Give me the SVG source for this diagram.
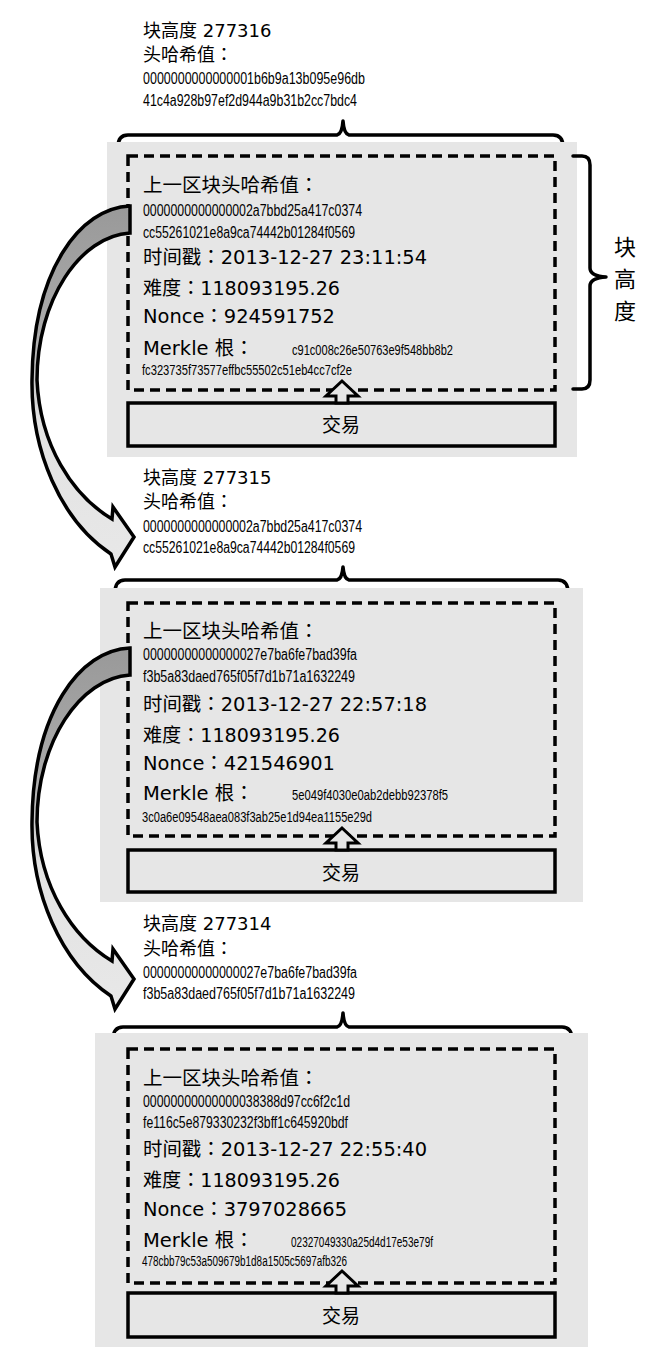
<svg xmlns="http://www.w3.org/2000/svg" width="662" height="1359" viewBox="0 0 662 1359">
<style>
.bg{fill:#e6e6e6}
.dash{fill:none;stroke:#000;stroke-width:3.5;stroke-dasharray:10 6}
.tx{fill:#e6e6e6;stroke:#000;stroke-width:3.5}
.brace{fill:none;stroke:#000;stroke-width:3.5;stroke-linejoin:round;stroke-linecap:round}
.t{font-family:"DejaVu Sans","Noto Sans CJK SC",sans-serif;fill:#000}
.k{font-family:"Noto Sans CJK TC","Noto Sans CJK SC",sans-serif}
.h{font-size:18px}
.f{font-size:19.5px}
.x{font-family:"Liberation Sans","Noto Sans",sans-serif;font-size:16px;fill:#000}
.m{font-family:"Liberation Sans","Noto Sans",sans-serif;font-size:14px;fill:#000}
.c{font-family:"Noto Sans CJK SC",sans-serif;font-size:19px;fill:#000;text-anchor:middle}
.v{font-family:"Noto Sans CJK SC",sans-serif;font-size:22px;fill:#000;text-anchor:middle}
.up{fill:#e6e6e6;stroke:#000;stroke-width:3;stroke-linejoin:miter}
.curve{fill:url(#g);stroke:#000;stroke-width:3.5;stroke-linejoin:miter}
</style>
<defs>
<linearGradient id="g" x1="0" y1="0" x2="0" y2="1">
<stop offset="0" stop-color="#999"/>
<stop offset="0.35" stop-color="#aaa"/>
<stop offset="0.6" stop-color="#e2e2e2"/>
<stop offset="1" stop-color="#e8e8e8"/>
</linearGradient>
<path id="curve" d="M130,206 C80,208 33,270 32,380 C31,450 60,520 111,554 L115,567 L134,537 L113,507 L112,519 C72,495 40,445 37,380 C37,300 80,236 130,233 Z"/>
</defs>
<rect width="662" height="1359" fill="#fff"/>

<g id="block-277316">
<text class="t h" x="143" y="37">块高度 277316</text>
<text class="t h" x="143" y="61">头哈希值<tspan class="k">：</tspan></text>
<text class="x" x="143" y="84" textLength="222" lengthAdjust="spacingAndGlyphs">0000000000000001b6b9a13b095e96db</text>
<text class="x" x="143" y="106" textLength="214" lengthAdjust="spacingAndGlyphs">41c4a928b97ef2d944a9b31b2cc7bdc4</text>
<path class="brace" d="M118,147 Q118,135 128,135 L337,135 Q342,134 343,121 Q344,134 349,135 L553,135 Q563,135 563,147"/>
<rect class="bg" x="107" y="142" width="470" height="315"/>
<rect class="dash" x="128" y="156" width="427" height="234"/>
<text class="t f" x="143" y="192">上一区块头哈希值<tspan class="k">：</tspan></text>
<text class="x" x="143" y="216" textLength="219" lengthAdjust="spacingAndGlyphs">0000000000000002a7bbd25a417c0374</text>
<text class="x" x="143" y="238" textLength="212" lengthAdjust="spacingAndGlyphs">cc55261021e8a9ca74442b01284f0569</text>
<text class="t f" x="143" y="264" textLength="284" lengthAdjust="spacingAndGlyphs">时间戳<tspan class="k">：</tspan>2013-12-27 23:11:54</text>
<text class="t f" x="143" y="295" textLength="197" lengthAdjust="spacingAndGlyphs">难度<tspan class="k">：</tspan>118093195.26</text>
<text class="t f" x="143" y="323" textLength="192" lengthAdjust="spacingAndGlyphs">Nonce<tspan class="k">：</tspan>924591752</text>
<text class="t f" x="143" y="355">Merkle 根<tspan class="k">：</tspan></text>
<text class="m" x="292" y="355" textLength="161" lengthAdjust="spacingAndGlyphs">c91c008c26e50763e9f548bb8b2</text>
<text class="m" x="142" y="375" textLength="210" lengthAdjust="spacingAndGlyphs">fc323735f73577effbc55502c51eb4cc7cf2e</text>
<path class="brace" d="M573,156 L582,156 Q590,156 590,165 L590,268 Q590,276 606,277 Q590,278 590,286 L590,380 Q590,389 582,389 L573,389"/>
<text class="v" x="625" y="255">块</text>
<text class="v" x="625" y="287">高</text>
<text class="v" x="625" y="319">度</text>
</g>
<g id="tx-277316">
<rect class="tx" x="128" y="403" width="427" height="43"/>
<text class="c" x="341" y="432">交易</text>
</g>

<g id="block-277315">
<text class="t h" x="143" y="484">块高度 277315</text>
<text class="t h" x="143" y="508">头哈希值<tspan class="k">：</tspan></text>
<text class="x" x="143" y="532" textLength="219" lengthAdjust="spacingAndGlyphs">0000000000000002a7bbd25a417c0374</text>
<text class="x" x="143" y="553" textLength="212" lengthAdjust="spacingAndGlyphs">cc55261021e8a9ca74442b01284f0569</text>
<path class="brace" d="M115,593 Q115,580 125,580 L337,580 Q342,579 343,567 Q344,579 349,580 L558,580 Q568,580 568,593"/>
<rect class="bg" x="100" y="588" width="483" height="314"/>
<rect class="dash" x="128" y="603" width="427" height="233"/>
<text class="t f" x="143" y="638">上一区块头哈希值<tspan class="k">：</tspan></text>
<text class="x" x="143" y="660" textLength="214" lengthAdjust="spacingAndGlyphs">00000000000000027e7ba6fe7bad39fa</text>
<text class="x" x="143" y="682" textLength="212" lengthAdjust="spacingAndGlyphs">f3b5a83daed765f05f7d1b71a1632249</text>
<text class="t f" x="143" y="711" textLength="284" lengthAdjust="spacingAndGlyphs">时间戳<tspan class="k">：</tspan>2013-12-27 22:57:18</text>
<text class="t f" x="143" y="742" textLength="197" lengthAdjust="spacingAndGlyphs">难度<tspan class="k">：</tspan>118093195.26</text>
<text class="t f" x="143" y="770" textLength="192" lengthAdjust="spacingAndGlyphs">Nonce<tspan class="k">：</tspan>421546901</text>
<text class="t f" x="143" y="800">Merkle 根<tspan class="k">：</tspan></text>
<text class="m" x="292" y="800" textLength="156" lengthAdjust="spacingAndGlyphs">5e049f4030e0ab2debb92378f5</text>
<text class="m" x="142" y="822" textLength="230" lengthAdjust="spacingAndGlyphs">3c0a6e09548aea083f3ab25e1d94ea1155e29d</text>
</g>
<g id="tx-277315">
<rect class="tx" x="128" y="850" width="427" height="42"/>
<text class="c" x="341" y="880">交易</text>
</g>

<g id="block-277314">
<text class="t h" x="143" y="930">块高度 277314</text>
<text class="t h" x="143" y="955">头哈希值<tspan class="k">：</tspan></text>
<text class="x" x="143" y="978" textLength="214" lengthAdjust="spacingAndGlyphs">00000000000000027e7ba6fe7bad39fa</text>
<text class="x" x="143" y="999" textLength="212" lengthAdjust="spacingAndGlyphs">f3b5a83daed765f05f7d1b71a1632249</text>
<path class="brace" d="M113,1040 Q113,1027 123,1027 L337,1027 Q342,1026 343,1013 Q344,1026 349,1027 L562,1027 Q572,1027 572,1040"/>
<rect class="bg" x="95" y="1033" width="493" height="314"/>
<rect class="dash" x="128" y="1049" width="427" height="234"/>
<text class="t f" x="143" y="1085">上一区块头哈希值<tspan class="k">：</tspan></text>
<text class="x" x="143" y="1107" textLength="207" lengthAdjust="spacingAndGlyphs">00000000000000038388d97cc6f2c1d</text>
<text class="x" x="143" y="1128" textLength="205" lengthAdjust="spacingAndGlyphs">fe116c5e879330232f3bff1c645920bdf</text>
<text class="t f" x="143" y="1156" textLength="284" lengthAdjust="spacingAndGlyphs">时间戳<tspan class="k">：</tspan>2013-12-27 22:55:40</text>
<text class="t f" x="143" y="1187" textLength="197" lengthAdjust="spacingAndGlyphs">难度<tspan class="k">：</tspan>118093195.26</text>
<text class="t f" x="143" y="1216" textLength="204" lengthAdjust="spacingAndGlyphs">Nonce<tspan class="k">：</tspan>3797028665</text>
<text class="t f" x="143" y="1247">Merkle 根<tspan class="k">：</tspan></text>
<text class="m" x="291" y="1247" textLength="142" lengthAdjust="spacingAndGlyphs">02327049330a25d4d17e53e79f</text>
<text class="m" x="142" y="1266" textLength="205" lengthAdjust="spacingAndGlyphs">478cbb79c53a509679b1d8a1505c5697afb326</text>
</g>
<g id="tx-277314">
<rect class="tx" x="128" y="1293" width="427" height="44"/>
<text class="c" x="341" y="1323">交易</text>
</g>

<g id="connectors">
<use href="#curve" class="curve"/>
<use href="#curve" class="curve" transform="translate(0,442)"/>
<path class="up" d="M342,381 L358,396 L348,396 L348,403 L336,403 L336,396 L326,396 Z"/>
<path class="up" d="M342,828 L358,843 L348,843 L348,850 L336,850 L336,843 L326,843 Z"/>
<path class="up" d="M342,1271 L358,1286 L348,1286 L348,1293 L336,1293 L336,1286 L326,1286 Z"/>
</g>
</svg>
